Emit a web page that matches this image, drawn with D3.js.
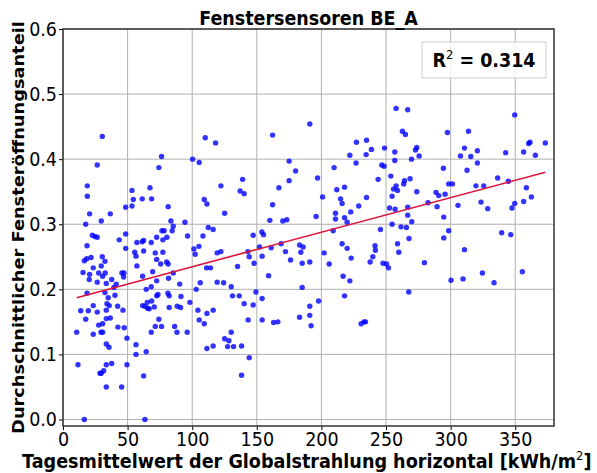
<!DOCTYPE html>
<html>
<head>
<meta charset="utf-8">
<script src="https://cdn.jsdelivr.net/npm/d3@7"></script>
<style>
  body { margin: 0; background: #fff; }
  svg { display: block; font-family: "DejaVu Sans", sans-serif; }
</style>
</head>
<body>
<div id="chart"></div>
<script>
// DATA: [Globalstrahlung kWh/m2, Fensteröffnungsanteil]
var samples = [
  [30.4,.435],[76.3,.404],[26.5,.391],[74.2,.387],[18.8,.359],[53.4,.352],[67.3,.356],[18.8,.343],
  [54.4,.338],[61.3,.339],[68.6,.339],[48.5,.326],[53.4,.328],[81.4,.327],[20.6,.316],[36.6,.316],
  [29.6,.305],[17.6,.300],[83.5,.305],[94.4,.303],[85.3,.297],[76.6,.290],[78.3,.290],[84.5,.290],
  [22.7,.283],[24.7,.281],[26.5,.280],[96.4,.282],[72.5,.280],[80.4,.280],[77.3,.276],[43.5,.276],
  [48.5,.285],[18.6,.267],[57.2,.272],[61.3,.273],[62.4,.275],[68.3,.272],[48.5,.263],
  [16.5,.244],[18.3,.247],[21.7,.249],[30.4,.250],[32.5,.243],[23.4,.233],[29.6,.236],[15.5,.226],
  [20.6,.223],[27.6,.225],[32.7,.225],[30.7,.220],[20.3,.215],[26.5,.211],[33.5,.209],[37.7,.215],
  [41.2,.208],[45.6,.225],[47.2,.225],[46.9,.219],[39.4,.203],[61.6,.220],[69.4,.227],[72.5,.213],
  [68.3,.204],[55.5,.257],[56.5,.251],[62.4,.259],[71.4,.256],[77.3,.257],[72.5,.246],[57.2,.236],
  [75.6,.239],[80.2,.242],[81.4,.239],[85.3,.225],[81.7,.217],[90.3,.208],[64.4,.200],[18.6,.194],
  [32.5,.195],[35.0,.187],[40.2,.191],[73.5,.192],[72.5,.190],[81.2,.194],[82.2,.190],[91.3,.189],
  [61.6,.175],[63.4,.174],[65.2,.180],[66.7,.170],[68.6,.182],[70.6,.173],[65.5,.171],[34.0,.178],
  [35.8,.175],[23.4,.175],[42.3,.174],[46.4,.168],[13.7,.167],[19.6,.167],[26.5,.165],[33.5,.168],
  [82.2,.172],[88.4,.174],[91.0,.172],[98.2,.180],[17.6,.154],[33.5,.155],[36.6,.156],[30.7,.147],
  [27.6,.145],[42.5,.142],[47.4,.141],[74.2,.154],[71.4,.143],[76.3,.143],[86.4,.143],[10.6,.134],
  [23.4,.131],[29.4,.134],[30.7,.134],[68.3,.134],[88.2,.134],[96.1,.134],[49.5,.125],[33.5,.116],
  [35.6,.111],[56.5,.115],[56.5,.100],[64.4,.104],[11.6,.084],[33.5,.084],[37.7,.086],[49.5,.084],
  [31.5,.075],[29.6,.071],[28.6,.071],[62.4,.067],[33.5,.050],[45.4,.050],[16.5,0],[63.4,0],
  [191.0,.454],[110.1,.433],[118.1,.425],[162.2,.437],[100.3,.400],[105.4,.395],[175.0,.397],[180.0,.382],
  [175.0,.367],[197.0,.371],[139.0,.369],[122.2,.359],[167.1,.356],[137.1,.351],[140.2,.347],[109.3,.338],
  [111.4,.331],[162.2,.330],[125.1,.317],[195.9,.312],[160.1,.306],[170.1,.305],[173.2,.307],[112.4,.295],
  [116.2,.292],[108.3,.282],[147.2,.283],[153.9,.288],[155.2,.284],[101.3,.262],[105.2,.266],[152.1,.265],
  [161.1,.264],[168.8,.270],[183.1,.268],[185.8,.265],
  [102.3,.254],[119.3,.256],[122.2,.258],[144.1,.250],[143.1,.258],[154.1,.251],[147.9,.240],[135.1,.235],
  [111.1,.233],[114.2,.233],[172.2,.258],[184.1,.257],[176.1,.245],[185.1,.240],[191.0,.242],[159.1,.221],
  [106.2,.210],[119.3,.211],[124.3,.210],[130.2,.204],[103.1,.200],[149.3,.196],[131.2,.190],[136.4,.190],
  [154.1,.186],[185.1,.203],[140.2,.178],[147.2,.176],[197.8,.182],[191.0,.174],[104.4,.168],[111.4,.163],
  [116.2,.168],[105.4,.153],[109.3,.147],[143.3,.153],[154.1,.153],[163.0,.149],[166.3,.150],[183.1,.157],
  [191.0,.160],[192.0,.144],[130.2,.134],[125.1,.124],[128.4,.121],[127.4,.112],[132.0,.112],[138.2,.113],
  [116.2,.113],[111.4,.109],[144.1,.095],[138.2,.068],
  [257.8,.478],[266.8,.476],[262.7,.443],[265.0,.438],[297.5,.441],[227.1,.426],[234.9,.429],[238.7,.415],
  [248.8,.417],[256.8,.411],[272.8,.414],[273.8,.418],[275.6,.405],[222.0,.406],[234.6,.407],[226.8,.394],
  [256.8,.398],[269.7,.400],[209.8,.387],[246.7,.391],[248.5,.389],[294.4,.386],[243.9,.369],[253.7,.374],
  [268.6,.370],[264.3,.367],[263.7,.362],[257.8,.359],[255.8,.354],[258.9,.352],[273.8,.350],[217.9,.357],
  [211.9,.353],[254.7,.343],[200.9,.342],[234.9,.341],[214.8,.339],[216.0,.332],[288.7,.349],[290.8,.344],
  [295.7,.346],[298.5,.362],[282.5,.333],[289.5,.327],[228.9,.328],[222.7,.319],[252.7,.325],[257.0,.323],
  [266.8,.326],[266.8,.314],[269.9,.304],[294.7,.311],[210.9,.317],[210.9,.308],[217.9,.310],[219.9,.303],
  [209.1,.290],[245.7,.292],[254.7,.300],[261.6,.296],[265.8,.295],[267.8,.278],[294.7,.279],[298.5,.290],
  [216.0,.270],[219.9,.263],[241.5,.267],[258.9,.270],
  [202.1,.256],[223.0,.248],[206.0,.239],[241.8,.260],[239.8,.250],[237.7,.242],[259.9,.257],[247.7,.240],
  [250.4,.239],[251.9,.233],[279.7,.241],[216.8,.220],[222.0,.213],[267.6,.196],[217.9,.190],[230.7,.147],
  [233.0,.150],[234.1,.150],
  [349.6,.468],[313.8,.443],[310.7,.417],[320.7,.413],[307.6,.405],[315.6,.404],[342.6,.410],[356.5,.411],
  [360.4,.424],[361.4,.426],[373.3,.425],[365.6,.406],[320.7,.394],[312.7,.383],[301.4,.362],[319.6,.359],
  [325.6,.359],[336.4,.371],[344.7,.366],[358.6,.356],[305.7,.329],[323.5,.334],[328.7,.324],[347.5,.325],
  [349.6,.332],[356.5,.335],[362.5,.342],[339.5,.287],[346.5,.284],
  [310.7,.261],[300.3,.214],[309.6,.216],[324.6,.225],[333.6,.210],[355.5,.227]
];

var title = "Fenstersensoren BE_A";
var xLabel = "Tagesmittelwert der Globalstrahlung horizontal [kWh/m";
var yLabel = "Durchschnittlicher Fensteröffnungsanteil";
var rSquared = "0.314";
var xTicks = [0, 50, 100, 150, 200, 250, 300, 350];
var yTicks = [0.0, 0.1, 0.2, 0.3, 0.4, 0.5, 0.6];

// SETUP
var width = 597, height = 473;
var margin = {top: 29, right: 43, bottom: 47, left: 63};
var fs = 19.6, sx = 0.893;   // the picture looks squeezed sideways, so text is too

var svg = d3.select("#chart").append("svg")
    .attr("width", width)
    .attr("height", height);

var x = d3.scaleLinear().domain([0, 380]).range([margin.left, width - margin.right]);
var y = d3.scaleLinear().domain([-0.01, 0.6]).range([height - margin.bottom, margin.top]);

// grid
svg.append("g").selectAll("line")
  .data(xTicks).enter().append("line")
    .attr("x1", function(d) { return x(d); }).attr("x2", function(d) { return x(d); })
    .attr("y1", margin.top).attr("y2", height - margin.bottom)
    .attr("stroke", "#b0b0b0").attr("stroke-width", 1);
svg.append("g").selectAll("line")
  .data(yTicks).enter().append("line")
    .attr("y1", function(d) { return y(d); }).attr("y2", function(d) { return y(d); })
    .attr("x1", margin.left).attr("x2", width - margin.right)
    .attr("stroke", "#b0b0b0").attr("stroke-width", 1);

// points
svg.append("g").selectAll("circle")
  .data(samples).enter().append("circle")
    .attr("cx", function(d) { return x(d[0]); })
    .attr("cy", function(d) { return y(d[1]); })
    .attr("r", 2.7)
    .attr("fill", "#0000ff")
    .attr("fill-opacity", 0.8);

// least squares fit line
var mx = d3.mean(samples, function(d) { return d[0]; }),
    my = d3.mean(samples, function(d) { return d[1]; });
var sxy = d3.sum(samples, function(d) { return (d[0] - mx) * (d[1] - my); }),
    sxx = d3.sum(samples, function(d) { return (d[0] - mx) * (d[0] - mx); });
var slope = sxy / sxx, icpt = my - slope * mx;
var ext = d3.extent(samples, function(d) { return d[0]; });
svg.append("line")
    .attr("x1", x(ext[0])).attr("y1", y(icpt + slope * ext[0]))
    .attr("x2", x(ext[1])).attr("y2", y(icpt + slope * ext[1]))
    .attr("stroke", "#dc143c").attr("stroke-width", 1.6);

// axes
var xAxis = svg.append("g")
    .attr("transform", "translate(0," + (height - margin.bottom) + ")")
    .call(d3.axisBottom(x).tickValues(xTicks).tickSize(4).tickPadding(2));
var yAxis = svg.append("g")
    .attr("transform", "translate(" + margin.left + ",0)")
    .call(d3.axisLeft(y).tickValues(yTicks).tickFormat(d3.format(".1f")).tickSize(4).tickPadding(2));
[xAxis, yAxis].forEach(function(a) {
  a.select(".domain").remove();
  a.selectAll("text").attr("font-size", fs).attr("fill", "#000")
    .attr("font-family", "DejaVu Sans")
    .attr("transform", "scale(" + sx + ",1)");
  a.selectAll("line").attr("stroke", "#000");
});
yAxis.selectAll("text").attr("x", -6 / sx);

// frame
svg.append("rect")
    .attr("x", margin.left).attr("y", margin.top)
    .attr("width", width - margin.left - margin.right)
    .attr("height", height - margin.top - margin.bottom)
    .attr("fill", "none").attr("stroke", "#333").attr("stroke-width", 1.5);

// R2 box
var box = svg.append("g").attr("transform", "translate(422,42)");
box.append("rect").attr("width", 124).attr("height", 36)
    .attr("fill", "#fff").attr("fill-opacity", 0.8)
    .attr("stroke", "#ccc").attr("stroke-width", 1);
var rt = box.append("text")
    .attr("transform", "translate(62,25) scale(" + sx + ",1)")
    .attr("text-anchor", "middle").attr("font-size", fs).attr("font-weight", "bold");
rt.append("tspan").text("R");
rt.append("tspan").attr("font-size", 13).attr("font-weight", "normal").attr("dy", -8).text("2");
rt.append("tspan").attr("dy", 8).text(" = " + rSquared);

// titles
var cx = (margin.left + width - margin.right) / 2;
svg.append("text")
    .attr("transform", "translate(" + cx + ",25) scale(" + sx + ",1)")
    .attr("text-anchor", "middle").attr("font-size", fs).attr("font-weight", "bold")
    .text(title);

// x label: fit between the edges seen in the picture
var xl = svg.append("text")
    .attr("font-size", fs).attr("font-weight", "bold");
xl.append("tspan").text(xLabel);
xl.append("tspan").attr("font-size", 13).attr("font-weight", "normal").attr("dy", -8).text("2");
xl.append("tspan").attr("dy", 8).text("]");
var bb = xl.node().getBBox();
var xs = (592 - 22) / bb.width;
xl.attr("transform", "translate(" + (22 - bb.x * xs) + ",468) scale(" + xs + ",1)");

svg.append("text")
    .attr("transform", "translate(24," + ((margin.top + height - margin.bottom) / 2) + ") scale(" + sx + ",1) rotate(-90)")
    .attr("text-anchor", "middle").attr("font-size", 17.8).attr("font-weight", "bold")
    .text(yLabel);
</script>
</body>
</html>
